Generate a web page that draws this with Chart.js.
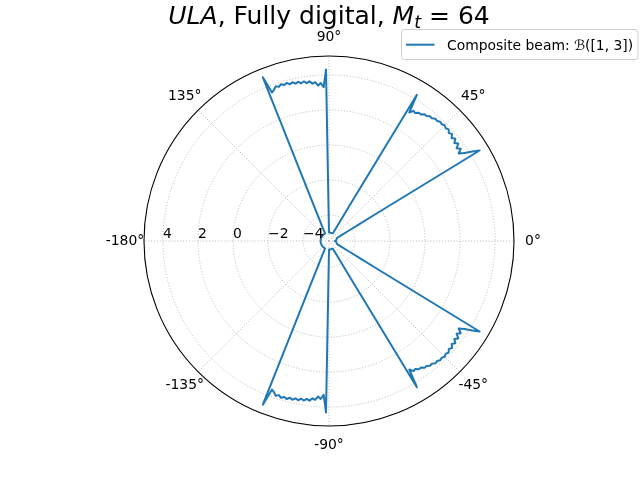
<!DOCTYPE html>
<html>
<head>
<meta charset="utf-8">
<script src="https://cdn.jsdelivr.net/npm/chart.js@4/dist/chart.umd.min.js"></script>
<style>
  body { margin: 0; background: #fff; }
  canvas { display: block; }
</style>
</head>
<body>
<canvas id="beam" width="640" height="480"></canvas>
<script>
// gain, one value per degree
// lower half: theta = 0, -1, -2 ... -180
const gainLower = [
  -5.15, -5.12, -5.1, -5.1, -5.08, -5.08, -5.07, -5.07, -5.06, -5.06,
  -5.05, -5.05, -5.04, -5.04, -5.03, -5.03, -5.02, -5.02, -5.01, -5.01,
  -5.0, -5.0, -4.95, -4.9, -4.82, -4.72, -4.58, -4.38, -4.05, -3.55,
  -2.4, 4.55, 4.17, 3.74, 3.45, 3.7, 3.52, 3.76, 3.6, 3.8,
  3.66, 3.83, 3.72, 3.86, 3.78, 3.86, 3.78, 3.83, 3.74, 3.77,
  3.66, 3.68, 3.57, 3.58, 3.45, 3.46, 3.33, 3.38, 3.17, 4.26,
  -3.2, -4.43, -4.75, -4.92, -5.0, -5.0, -5.0, -5.0, -5.0, -5.0,
  -5.0, -5.0, -5.0, -5.0, -5.0, -5.0, -5.0, -5.0, -5.0, -5.0,
  -5.0, -5.0, -5.0, -5.0, -5.0, -5.0, -5.0, -5.0, -5.0, -5.0,
  -5.0, 4.31, 3.3, 3.55, 3.42, 3.62, 3.55, 3.7, 3.62, 3.74,
  3.66, 3.78, 3.7, 3.82, 3.74, 3.86, 3.78, 3.88, 3.77, 3.86,
  3.7, 3.6, 4.6, -3.08, -4.13, -4.52, -4.74, -4.9, -5.0, -5.0,
  -5.0, -5.0, -5.0, -5.0, -5.0, -5.0, -5.0, -5.0, -5.0, -5.0,
  -5.0, -5.0, -5.0, -5.0, -5.0, -5.0, -5.0, -5.0, -5.0, -5.0,
  -5.0, -5.0, -5.0, -5.0, -5.0, -5.0, -5.0, -5.0, -5.0, -5.0,
  -5.0, -5.0, -5.0, -5.0, -5.0, -5.0, -5.0, -5.0, -5.0, -5.0,
  -5.0, -5.0, -5.0, -5.0, -5.0, -5.0, -5.0, -5.0, -5.0, -5.0,
  -5.0, -5.0, -5.0, -5.0, -5.0, -5.0, -5.0, -5.0, -5.0, -5.0,
  -5.0
];
// upper half: theta = 1, 2 ... 179
const gainUpper = [
  -5.12, -5.1, -5.1, -5.08, -5.08, -5.07, -5.07, -5.06, -5.06,
  -5.05, -5.05, -5.04, -5.04, -5.03, -5.03, -5.02, -5.02, -5.01, -5.01,
  -5.0, -5.0, -4.95, -4.9, -4.82, -4.72, -4.58, -4.38, -4.05, -3.55,
  -2.4, 4.55, 4.17, 3.74, 3.45, 3.7, 3.52, 3.76, 3.6, 3.8,
  3.66, 3.83, 3.72, 3.86, 3.78, 3.86, 3.78, 3.83, 3.74, 3.77,
  3.66, 3.68, 3.57, 3.58, 3.45, 3.46, 3.33, 3.38, 3.17, 4.26,
  -3.2, -4.43, -4.75, -4.92, -5.0, -5.0, -5.0, -5.0, -5.0, -5.0,
  -5.0, -5.0, -5.0, -5.0, -5.0, -5.0, -5.0, -5.0, -5.0, -5.0,
  -5.0, -5.0, -5.0, -5.0, -5.0, -5.0, -5.0, -5.0, -5.0, -5.0,
  -5.0, 4.31, 3.3, 3.55, 3.42, 3.62, 3.55, 3.7, 3.62, 3.74,
  3.66, 3.78, 3.7, 3.82, 3.74, 3.86, 3.78, 3.88, 3.77, 3.86,
  3.7, 3.6, 4.6, -3.08, -4.13, -4.52, -4.74, -4.9, -5.0, -5.0,
  -5.0, -5.0, -5.0, -5.0, -5.0, -5.0, -5.0, -5.0, -5.0, -5.0,
  -5.0, -5.0, -5.0, -5.0, -5.0, -5.0, -5.0, -5.0, -5.0, -5.0,
  -5.0, -5.0, -5.0, -5.0, -5.0, -5.0, -5.0, -5.0, -5.0, -5.0,
  -5.0, -5.0, -5.0, -5.0, -5.0, -5.0, -5.0, -5.0, -5.0, -5.0,
  -5.0, -5.0, -5.0, -5.0, -5.0, -5.0, -5.0, -5.0, -5.0, -5.0,
  -5.0, -5.0, -5.0, -5.0, -5.0, -5.0, -5.0, -5.0, -5.0, -5.0
];
const rTicks = [-4, -2, 0, 2, 4];
const thetaTicks = [0, 45, 90, 135, 180, -135, -90, -45];
const thetaTickLabels = ['0°', '45°', '90°', '135°', '-180°', '-135°', '-90°', '-45°'];
const rMin = -5.48;
const rMax = 5.08;

const FONT = '"DejaVu Sans", sans-serif';
const C0 = '#1f77b4';

// radar goes clockwise from startAngle, so index i -> theta = -i
let thetaLabels = [];
for (let i = 0; i < 360; i++) {
    thetaLabels.push(i <= 180 ? -i : 360 - i);
}
const gain = gainLower.concat(gainUpper.slice().reverse());

function thetaIndex(t) {
    return t <= 0 ? -t : 360 - t;
}

function drawTitle(ctx, cx) {
    // mathtext style title, pieces drawn one after the other
    const parts = [
        ['italic 25px ' + FONT, 'ULA', 0],
        ['25px ' + FONT, ', Fully digital, ', 0],
        ['italic 25px ' + FONT, 'M', 0],
        ['italic 17.5px ' + FONT, 't', 4],
        ['25px ' + FONT, ' = 64', 0]
    ];
    let total = 0;
    for (const p of parts) {
        ctx.font = p[0];
        total += ctx.measureText(p[1]).width;
    }
    let x = cx - total / 2;
    ctx.textAlign = 'left';
    ctx.textBaseline = 'alphabetic';
    ctx.fillStyle = '#000';
    for (const p of parts) {
        ctx.font = p[0];
        ctx.fillText(p[1], x, 24 + p[2]);
        x += ctx.measureText(p[1]).width;
    }
}

function drawLegend(ctx) {
    const x = 401.5, y = 29.5, w = 236.5, h = 30, rad = 3;
    ctx.beginPath();
    ctx.moveTo(x + rad, y);
    ctx.arcTo(x + w, y, x + w, y + h, rad);
    ctx.arcTo(x + w, y + h, x, y + h, rad);
    ctx.arcTo(x, y + h, x, y, rad);
    ctx.arcTo(x, y, x + w, y, rad);
    ctx.closePath();
    ctx.fillStyle = 'rgba(255,255,255,0.8)';
    ctx.fill();
    ctx.strokeStyle = '#cccccc';
    ctx.lineWidth = 1;
    ctx.stroke();

    ctx.strokeStyle = C0;
    ctx.lineWidth = 2;
    ctx.beginPath();
    ctx.moveTo(406, 44.7);
    ctx.lineTo(434.5, 44.7);
    ctx.stroke();

    ctx.fillStyle = '#000';
    ctx.font = '13.9px ' + FONT;
    ctx.textAlign = 'left';
    ctx.textBaseline = 'alphabetic';
    ctx.fillText('Composite beam: \u212C([1, 3])', 447, 50);
}

const decorPlugin = {
    id: 'decor',
    afterDraw(chart) {
        const ctx = chart.ctx;
        const r = chart.scales.r;
        ctx.save();
        // outer spine
        ctx.strokeStyle = '#000';
        ctx.lineWidth = 1.1;
        ctx.beginPath();
        ctx.arc(r.xCenter, r.yCenter, r.drawingArea, 0, Math.PI * 2);
        ctx.stroke();

        ctx.fillStyle = '#000';
        ctx.font = '13.9px ' + FONT;
        ctx.textAlign = 'center';
        ctx.textBaseline = 'middle';
        thetaTicks.forEach((t, k) => {
            const p = r.getPointPosition(thetaIndex(t), r.drawingArea + 19);
            ctx.fillText(thetaTickLabels[k], p.x, p.y);
        });

        // radial labels sit along the 180 deg spoke
        ctx.textAlign = 'left';
        ctx.textBaseline = 'alphabetic';
        rTicks.forEach(v => {
            const x = r.xCenter - r.getDistanceFromCenterForValue(v);
            ctx.fillText(v < 0 ? '\u2212' + Math.abs(v) : String(v), x, r.yCenter - 3);
        });

        drawTitle(ctx, r.xCenter);
        drawLegend(ctx);
        ctx.restore();
    }
};

Chart.defaults.font.family = FONT;

new Chart(document.getElementById('beam'), {
    type: 'radar',
    data: {
        labels: thetaLabels,
        datasets: [{
            label: 'Composite beam',
            data: gain,
            borderColor: C0,
            borderWidth: 2,
            borderJoinStyle: 'round',
            borderCapStyle: 'round',
            pointRadius: 0,
            pointHoverRadius: 0,
            fill: false,
            tension: 0
        }]
    },
    options: {
        responsive: false,
        animation: false,
        layout: { padding: { left: 144, right: 126, top: 56, bottom: 54 } },
        plugins: {
            legend: { display: false },
            title: { display: false },
            tooltip: { enabled: false }
        },
        scales: {
            r: {
                min: rMin,
                max: rMax,
                startAngle: 90,
                beginAtZero: false,
                afterBuildTicks: (axis) => {
                    axis.ticks = [rMin].concat(rTicks).map(v => ({ value: v }));
                },
                ticks: { display: false },
                grid: {
                    circular: true,
                    color: (c) => c.index === 0 ? 'rgba(0,0,0,0)' : '#b0b0b0',
                    lineWidth: 0.8
                },
                border: { dash: [1.1, 1.8] },
                angleLines: {
                    color: '#b0b0b0',
                    lineWidth: (c) => c.index % 45 === 0 ? 0.8 : 0,
                    borderDash: [1.1, 1.8]
                },
                pointLabels: { display: false }
            }
        }
    },
    plugins: [decorPlugin]
});
</script>
</body>
</html>
